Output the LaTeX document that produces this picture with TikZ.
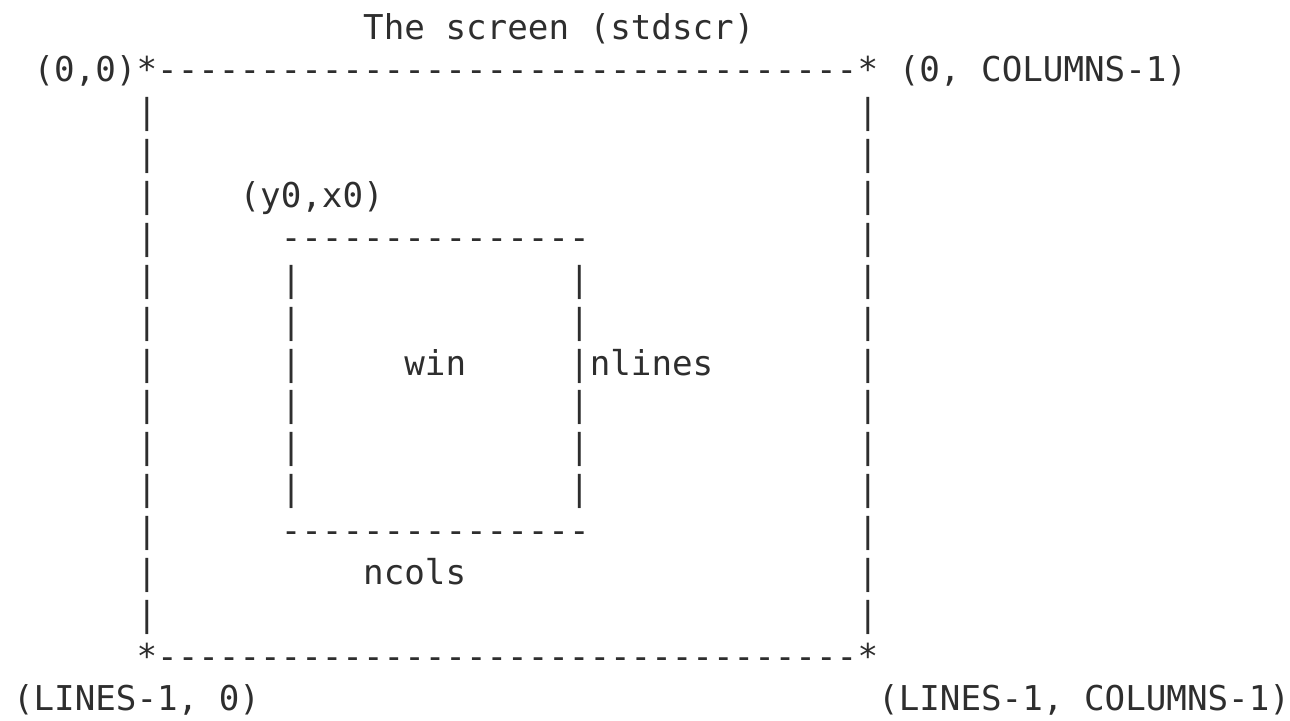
\documentclass[tikz,border=0pt]{standalone}
\usepackage{fontspec}
\newfontfamily\asciimono{DejaVu Sans Mono}
\definecolor{ink}{HTML}{2E2E2E}
\tikzset{
  t/.style={anchor=base west, inner sep=0pt, outer sep=0pt, text=ink,
            font=\asciimono\fontsize{17.1pt}{20pt}\selectfont},
}
\begin{document}
\begin{tikzpicture}
\fill[white] (0,0) rectangle (645pt,-360pt);
\useasboundingbox (0,0) rectangle (645pt,-360pt);
\begin{scope}[shift={(6.5pt,-19.9pt)}, x=10.3pt, y=-20.95pt]
  % title
  \node[t] (title) at (17,0) {The screen (stdscr)};
  % outer corners
  \node[t] (tl) at (6,1) {*};
  \node[t] (tr) at (41,1) {*};
  \node[t] (bl) at (6,15) {*};
  \node[t] (br) at (41,15) {*};
  % outer edges
  \node[t] (top) at (7,1) {----------------------------------};
  \node[t] (bottom) at (7,15) {----------------------------------};
  \foreach \r in {2,...,14} {
    \node[t] (lb\r) at (6,\r) {|};
    \node[t] (rb\r) at (41,\r) {|};
  }
  % inner window
  \node[t] (wtop) at (13,5) {---------------};
  \node[t] (wbottom) at (13,12) {---------------};
  \foreach \r in {6,...,11} {
    \node[t] (wl\r) at (13,\r) {|};
    \node[t] (wr\r) at (27,\r) {|};
  }
  % labels
  \node[t] (l00) at (1,1) {(0,0)};
  \node[t] (l0c) at (43,1) {(0, COLUMNS-1)};
  \node[t] (ly0) at (11,4) {(y0,x0)};
  \node[t] (lwin) at (19,8) {win};
  \node[t] (lnl) at (28,8) {nlines};
  \node[t] (lnc) at (17,13) {ncols};
  \node[t] (ll0) at (0,16) {(LINES-1, 0)};
  \node[t] (llc) at (42,16) {(LINES-1, COLUMNS-1)};
\end{scope}
\end{tikzpicture}
\end{document}
